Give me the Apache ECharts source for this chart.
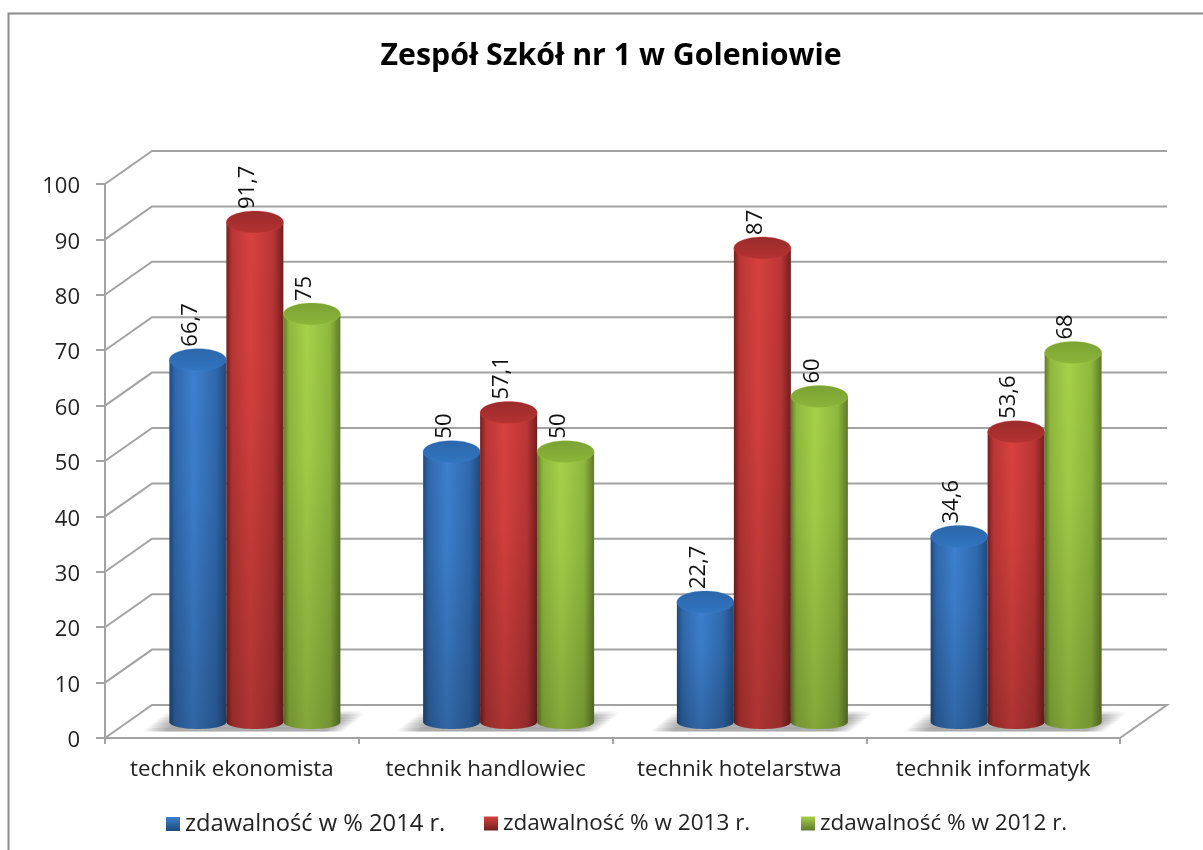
<!DOCTYPE html>
<html><head><meta charset="utf-8">
<style>html,body{margin:0;padding:0;background:#fff}#c{width:1203px;height:850px}</style>
<script src="https://cdn.jsdelivr.net/npm/echarts@6/dist/echarts.min.js"></script>
</head><body><div id="c"></div>
<script>
const chartTitle = 'Zespół Szkół nr 1 w Goleniowie';
const categories = ['technik ekonomista','technik handlowiec','technik hotelarstwa','technik informatyk'];
const seriesNames = ['zdawalność w % 2014 r.','zdawalność % w 2013 r.','zdawalność % w 2012 r.'];
const values2014 = [66.7,50,22.7,34.6];
const values2013 = [91.7,57.1,87,53.6];
const values2012 = [75,50,60,68];
const yTicks = [0,10,20,30,40,50,60,70,80,90,100];
const allValues = [values2014,values2013,values2012];
const palettes = [
 {edge:'#1f4a7c',mid:'#3068ac',light:'#3d80cf',topA:'#2b66aa',topB:'#3275c0'},
 {edge:'#751e1e',mid:'#b93635',light:'#d8413f',topA:'#9a2b2b',topB:'#b53232'},
 {edge:'#5f7929',mid:'#8fb83e',light:'#a6d149',topA:'#7aa233',topB:'#8cb53a'}
];
const FONT='"Open Sans", Lato, sans-serif';
const DEPTH_X=47, DEPTH_Y=33, GROUP_SHIFT=23;
const chart=echarts.init(document.getElementById('c'),null,{renderer:'canvas'});
const lin=(x2,y2,stops)=>({type:'linear',x:0,y:0,x2,y2,colorStops:stops.map((s)=>({offset:s[0],color:s[1]}))});

function wallItem(p,api){
  const y=api.coord([0,api.value(0)])[1];
  const x0=p.coordSys.x, x1=x0+p.coordSys.width;
  const style={stroke:'#a3a3a3',lineWidth:2,fill:null};
  const pts=[[x0,y],[x0+DEPTH_X,y-DEPTH_Y],[x1+DEPTH_X,y-DEPTH_Y]];
  if(api.value(0)===0) pts.push([x1,y]);
  return {type:'polyline',shape:{points:pts},style,silent:true};
}
function shadowItem(p,api){
  const pt=api.coord([api.value(0),0]);
  const cx=pt[0]+GROUP_SHIFT, y=pt[1];
  const rows=13, children=[];
  for(let i=0;i<rows;i++){
    const f=i/(rows-1), top=y-27+i*20/rows, h=20/rows+0.4;
    const lean=(1-f)*23;
    const a=Math.min(1,0.15+2.6*f);
    const c=(al)=>'rgba(168,168,168,'+(al*a).toFixed(3)+')';
    children.push({type:'rect',shape:{x:cx-112+lean,y:top,width:202,height:h},
      style:{fill:lin(1,0,[[0,c(0)],[0.12,c(1)],[0.9,c(1)],[1,c(0)]])}});
  }
  return {type:'group',silent:true,children};
}
function cylinder(idx){
  const pal=palettes[idx];
  return function(p,api){
    const v=api.value(1), pt=api.coord([api.value(0),v]), zero=api.coord([api.value(0),0]);
    const band=api.size([1,0])[0], w=band*0.2246, r=w/2;
    const cx=pt[0]+GROUP_SHIFT+(idx-1)*w;
    const topY=zero[1]-11+(pt[1]-zero[1])*0.994;
    const baseY=zero[1]-16, ryTop=11, ryBase=7;
    const pts=[[cx-r,topY],[cx+r,topY]];
    for(let a=0;a<=32;a++){const t=a/32*Math.PI;pts.push([cx+r*Math.cos(t),baseY+ryBase*Math.sin(t)]);}
    const body=lin(1,0,[[0,pal.edge],[0.1,pal.mid],[0.42,pal.light],[0.82,pal.mid],[1,pal.edge]]);
    const txt=String(v).replace('.',',');
    return {type:'group',silent:true,children:[
      {type:'polygon',shape:{points:pts},style:{fill:body}},
      {type:'polygon',shape:{points:pts},style:{fill:lin(0,1,[[0,'rgba(0,0,0,0)'],[0.35,'rgba(0,0,0,0.03)'],[1,'rgba(0,0,0,0.2)']])}},
      {type:'ellipse',shape:{cx,cy:topY,rx:r,ry:ryTop},style:{fill:lin(0,1,[[0,pal.topA],[1,pal.topB]]),stroke:pal.light,lineWidth:0.6,strokeOpacity:0.5}},
      {type:'text',x:cx-7,y:topY-ryTop-2,rotation:Math.PI/2,
        style:{text:txt,font:'22px '+FONT,fill:'#111',align:'left',verticalAlign:'middle'}}
    ]};
  };
}
const legendPos=[161,479,796];
const legendFontSizes=[23.7,22.5,22.5];
const option={
  animation:false,backgroundColor:'#fff',
  title:{text:chartTitle,left:606,top:36,textAlign:'center',textStyle:{fontFamily:FONT,fontSize:30.3,fontWeight:'bold',color:'#000'}},
  grid:{left:105,right:83,top:184,bottom:112,containLabel:false},
  xAxis:{type:'category',data:categories,boundaryGap:true,
    axisLine:{show:true,lineStyle:{color:'#a3a3a3',width:2}},
    axisTick:{show:true,alignWithLabel:false,length:6,lineStyle:{color:'#a3a3a3',width:2}},
    axisLabel:{fontFamily:FONT,fontSize:22.3,color:'#222',margin:21,interval:0},splitLine:{show:false}},
  yAxis:{type:'value',min:0,max:100,interval:10,
    axisLine:{show:true,lineStyle:{color:'#a3a3a3',width:2}},
    axisTick:{show:true,length:9,lineStyle:{color:'#a3a3a3',width:2}},
    axisLabel:{fontFamily:FONT,fontSize:22,color:'#222',margin:25,verticalAlign:'top',lineHeight:6},splitLine:{show:false}},
  legend:seriesNames.map((n,i)=>({data:[{name:n,icon:'rect',itemStyle:{color:lin(0,1,[[0,palettes[i].light],[1,palettes[i].edge]])}}],
    left:legendPos[i],top:807,itemWidth:14,itemHeight:14,selectedMode:false,
    textStyle:{fontFamily:FONT,fontSize:legendFontSizes[i],color:'#222'}})),
  series:[
    {type:'custom',name:'walls',z:1,clip:false,silent:true,renderItem:wallItem,data:yTicks.map((t)=>[t]),encode:{y:0}},
    {type:'custom',name:'floor',z:2,clip:false,silent:true,renderItem:shadowItem,data:categories.map((c,i)=>[i,0]),encode:{x:0,y:1}},
    ...seriesNames.map((n,i)=>({type:'custom',name:n,z:3+i,clip:false,renderItem:cylinder(i),
      itemStyle:{color:palettes[i].light},encode:{x:0,y:1},data:allValues[i].map((v,k)=>[k,v])}))
  ],
  graphic:[{type:'polyline',silent:true,z:10,shape:{points:[[8.5,850],[8.5,13.5],[1203,13.5]]},style:{stroke:'#8c8c8c',lineWidth:2,fill:null}}]
};
chart.setOption(option);
</script></body></html>
